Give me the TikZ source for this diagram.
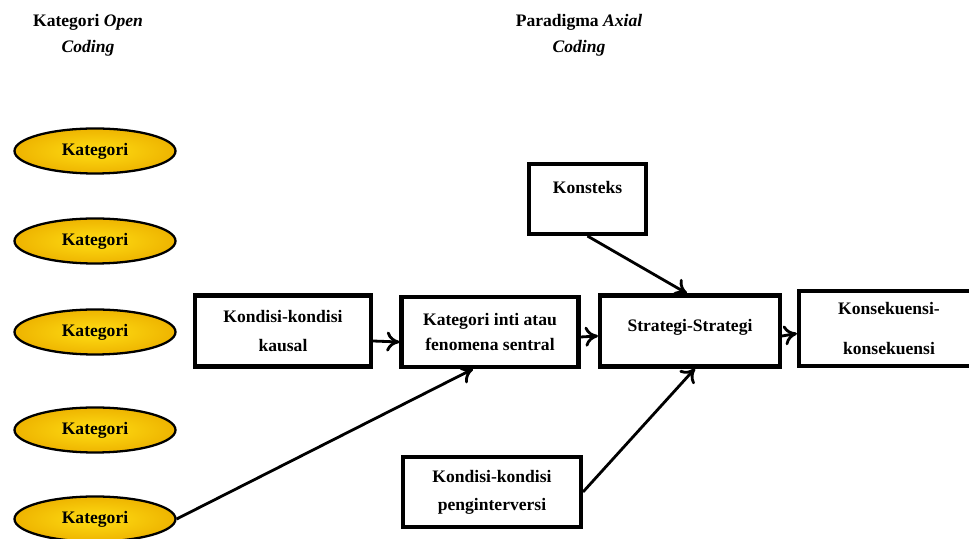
\documentclass[tikz,border=0pt]{standalone}
\usepackage{fontspec}
\setmainfont{Liberation Serif}
\usetikzlibrary{arrows.meta,shapes.geometric}
\definecolor{katyellow}{RGB}{255,222,20}
\definecolor{katedge}{RGB}{238,180,0}
\tikzset{
  kat/.style={ellipse, draw, line width=1.3pt, inner color=katyellow, outer color=katedge, minimum width=3.22cm, minimum height=0.9cm, font=\bfseries\fontsize{10}{12}\selectfont},
  box/.style={rectangle, draw, line width=2.3pt, fill=white, align=center, font=\bfseries\fontsize{10}{16}\selectfont},
  arr/.style={-{To[length=2.6mm,width=4mm]}, line width=1.6pt},
  judul/.style={align=center, font=\bfseries\fontsize{10}{15}\selectfont}
}
\begin{document}
\begin{tikzpicture}[scale=0.20]
\useasboundingbox (0,0) rectangle (96.9,53.9);

% judul
\node[judul] (judulopen) at (8.8,50.4) {Kategori \textit{Open}\\\textit{Coding}};
\node[judul] (judulaxial) at (57.9,50.4) {Paradigma \textit{Axial}\\\textit{Coding}};

% kategori open coding
\node[kat] (kat1) at (9.5,38.8) {Kategori};
\node[kat] (kat2) at (9.5,29.8) {Kategori};
\node[kat] (kat3) at (9.5,20.7) {Kategori};
\node[kat] (kat4) at (9.5,10.9) {Kategori};
\node[kat] (kat5) at (9.5,2.0) {Kategori};

% paradigma
\node[box, minimum width=3.52cm, minimum height=1.42cm] (kausal) at (28.3,20.8) {Kondisi-kondisi\\kausal};
\node[box, minimum width=3.54cm, minimum height=1.4cm, font=\bfseries\fontsize{10}{14}\selectfont] (inti) at (49.0,20.7) {Kategori inti atau\\fenomena sentral};
\node[box, minimum width=3.6cm, minimum height=1.42cm, text depth=6pt] (strategi) at (69.0,20.8) {Strategi-Strategi};
\node[box, minimum width=3.6cm, minimum height=1.5cm, font=\bfseries\fontsize{10}{23}\selectfont] (konsekuensi) at (88.9,21.05) {Konsekuensi-\\konsekuensi};
\node[box, minimum width=2.34cm, minimum height=1.4cm, text depth=13pt] (konsteks) at (58.75,34.0) {Konsteks};
\node[box, minimum width=3.56cm, minimum height=1.4cm] (intervensi) at (49.2,4.7) {Kondisi-kondisi\\penginterversi};

% panah (shift ikut scale 0.2)
\draw[arr] ([yshift=-10mm]kausal.east) -- ([yshift=-10mm]inti.west);
\draw[arr] ([yshift=-5mm]inti.east) -- ([yshift=-5mm]strategi.west);
\draw[arr] ([yshift=-5mm]strategi.east) -- ([yshift=-5mm]konsekuensi.west);
\draw[arr] (konsteks.south) -- ([xshift=-3mm]strategi.north);
\draw[arr] (kat5.east) -- ([xshift=-17mm]inti.south);
\draw[arr] (intervensi.east) -- ([xshift=5mm]strategi.south);
\end{tikzpicture}
\end{document}
